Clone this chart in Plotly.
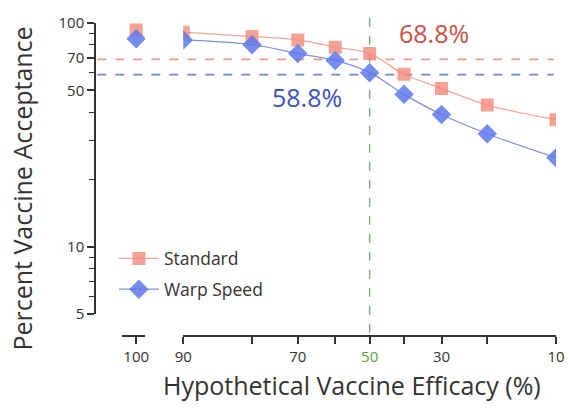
import numpy as np
import plotly.graph_objects as go

# ---- data ----
efficacy = [100, 90, 80, 70, 60, 50, 40, 30, 20, 10]
standard = [93, 91, 87, 84, 78, 73, 59, 51, 43, 37]
warp_speed = [85, 84, 80, 73, 68, 60, 48, 39, 32, 25]
standard_threshold = 68.8
warp_threshold = 58.8
reference_efficacy = 50

x_tick_vals = [90, 80, 70, 60, 50, 40, 30, 20, 10]
x_tick_text = ["90", "", "70", "", "<span style='color:#5a9e3c'>50</span>", "", "30", "", "10"]
y_tick_vals = [5, 10, 50, 70, 100]
y_minor_vals = [6, 7, 8, 9, 20, 30, 40, 60, 80, 90]


def logit(p):
    p = np.asarray(p, dtype=float) / 100.0
    return np.log(p / (1 - p))


RED = "#f28b7a"
RED_LINE = "#f4a597"
BLUE = "#5e78ec"
BLUE_LINE = "#8090dc"
AX = "#333333"
FONT = "Open Sans"

main_x = efficacy[1:]
fig = go.Figure()

fig.add_trace(go.Scatter(
    x=logit(main_x), y=standard[1:], name="Standard", mode="lines+markers",
    line=dict(color=RED_LINE, width=1.3, shape="spline", smoothing=1.0),
    marker=dict(symbol="square", size=13, color=RED, opacity=0.8),
    legendgroup="a"))
fig.add_trace(go.Scatter(
    x=logit(main_x), y=warp_speed[1:], name="Warp Speed", mode="lines+markers",
    line=dict(color=BLUE_LINE, width=1.3, shape="spline", smoothing=1.0),
    marker=dict(symbol="diamond", size=15, color=BLUE, opacity=0.85),
    legendgroup="b"))
fig.add_trace(go.Scatter(
    x=efficacy[:1], y=standard[:1], xaxis="x2", mode="markers", showlegend=False,
    marker=dict(symbol="square", size=13, color=RED, opacity=0.8)))
fig.add_trace(go.Scatter(
    x=efficacy[:1], y=warp_speed[:1], xaxis="x2", mode="markers", showlegend=False,
    marker=dict(symbol="diamond", size=15, color=BLUE, opacity=0.85)))

# reference lines
fig.add_shape(type="line", xref="paper", yref="y", x0=0.005, x1=0.995,
              y0=standard_threshold, y1=standard_threshold,
              line=dict(color="#f09a8c", width=1.6, dash="dash"), layer="below")
fig.add_shape(type="line", xref="paper", yref="y", x0=0.005, x1=0.995,
              y0=warp_threshold, y1=warp_threshold,
              line=dict(color="#6f86d6", width=1.6, dash="dash"), layer="below")
xr = float(logit([reference_efficacy])[0])
fig.add_shape(type="line", xref="x", yref="paper", x0=xr, x1=xr, y0=0.01, y1=1.035,
              line=dict(color="#7fae6a", width=1.4, dash="dash"), layer="below")

fig.add_annotation(x=0.655, y=0.968, xref="paper", yref="paper", xanchor="left", yanchor="middle",
                   text=f"{standard_threshold}%", showarrow=False,
                   font=dict(family=FONT, size=25, color="#c9524a"))
fig.add_annotation(x=0.379, y=0.765, xref="paper", yref="paper", xanchor="left", yanchor="middle",
                   text=f"{warp_threshold}%", showarrow=False,
                   font=dict(family=FONT, size=25, color="#3a55b8"))

# axis titles
fig.add_annotation(x=-0.159, y=0.47, xref="paper", yref="paper", textangle=-90,
                   xanchor="center", yanchor="middle",
                   text="Percent Vaccine Acceptance", showarrow=False,
                   font=dict(family=FONT, size=25, color=AX))
fig.add_annotation(x=0.557, y=-0.156, xref="paper", yref="paper",
                   xanchor="center", yanchor="middle",
                   text="Hypothetical Vaccine Efficacy (%)", showarrow=False,
                   font=dict(family=FONT, size=25, color=AX))

fig.update_layout(
    width=577, height=411,
    margin=dict(l=95, r=12, t=21, b=75),
    plot_bgcolor="white", paper_bgcolor="white",
    font=dict(family=FONT, size=15, color=AX),
    xaxis=dict(domain=[0.1915, 1.0], range=[float(logit([90])[0]), float(logit([10])[0])],
               anchor="free", position=0, showgrid=False, zeroline=False,
               showline=True, linecolor=AX, linewidth=1.5,
               ticks="outside", ticklen=7, tickwidth=1.5, tickcolor=AX,
               tickvals=list(logit(x_tick_vals)), ticktext=x_tick_text,
               tickfont=dict(size=15, color=AX)),
    xaxis2=dict(domain=[0.0596, 0.1085], range=[101.4, 99.1], anchor="free", position=0,
                showgrid=False, zeroline=False, showline=True, linecolor=AX, linewidth=1.5,
                ticks="outside", ticklen=7, tickwidth=1.5, tickcolor=AX,
                tickvals=[100], ticktext=["100"], tickfont=dict(size=15, color=AX)),
    yaxis=dict(type="log", range=[np.log10(5), 2], domain=[0.0698, 1.0],
               anchor="free", position=0, showgrid=False, zeroline=False,
               showline=True, linecolor=AX, linewidth=1.5,
               ticks="outside", ticklen=7, tickwidth=1.5, tickcolor=AX,
               tickvals=y_tick_vals, ticktext=[str(v) for v in y_tick_vals],
               tickfont=dict(size=15, color=AX),
               minor=dict(tickvals=y_minor_vals, ticks="outside", ticklen=5,
                          tickwidth=1.2, tickcolor=AX, showgrid=False)),
    legend=dict(x=0.041, y=0.305, xanchor="left", yanchor="top", bgcolor="rgba(0,0,0,0)",
                font=dict(family=FONT, size=17.5, color=AX), tracegroupgap=5,
                itemwidth=40),
    showlegend=True,
)

fig.write_html("out.html", config={"displayModeBar": False},
               post_script="document.body.style.margin='0';")
